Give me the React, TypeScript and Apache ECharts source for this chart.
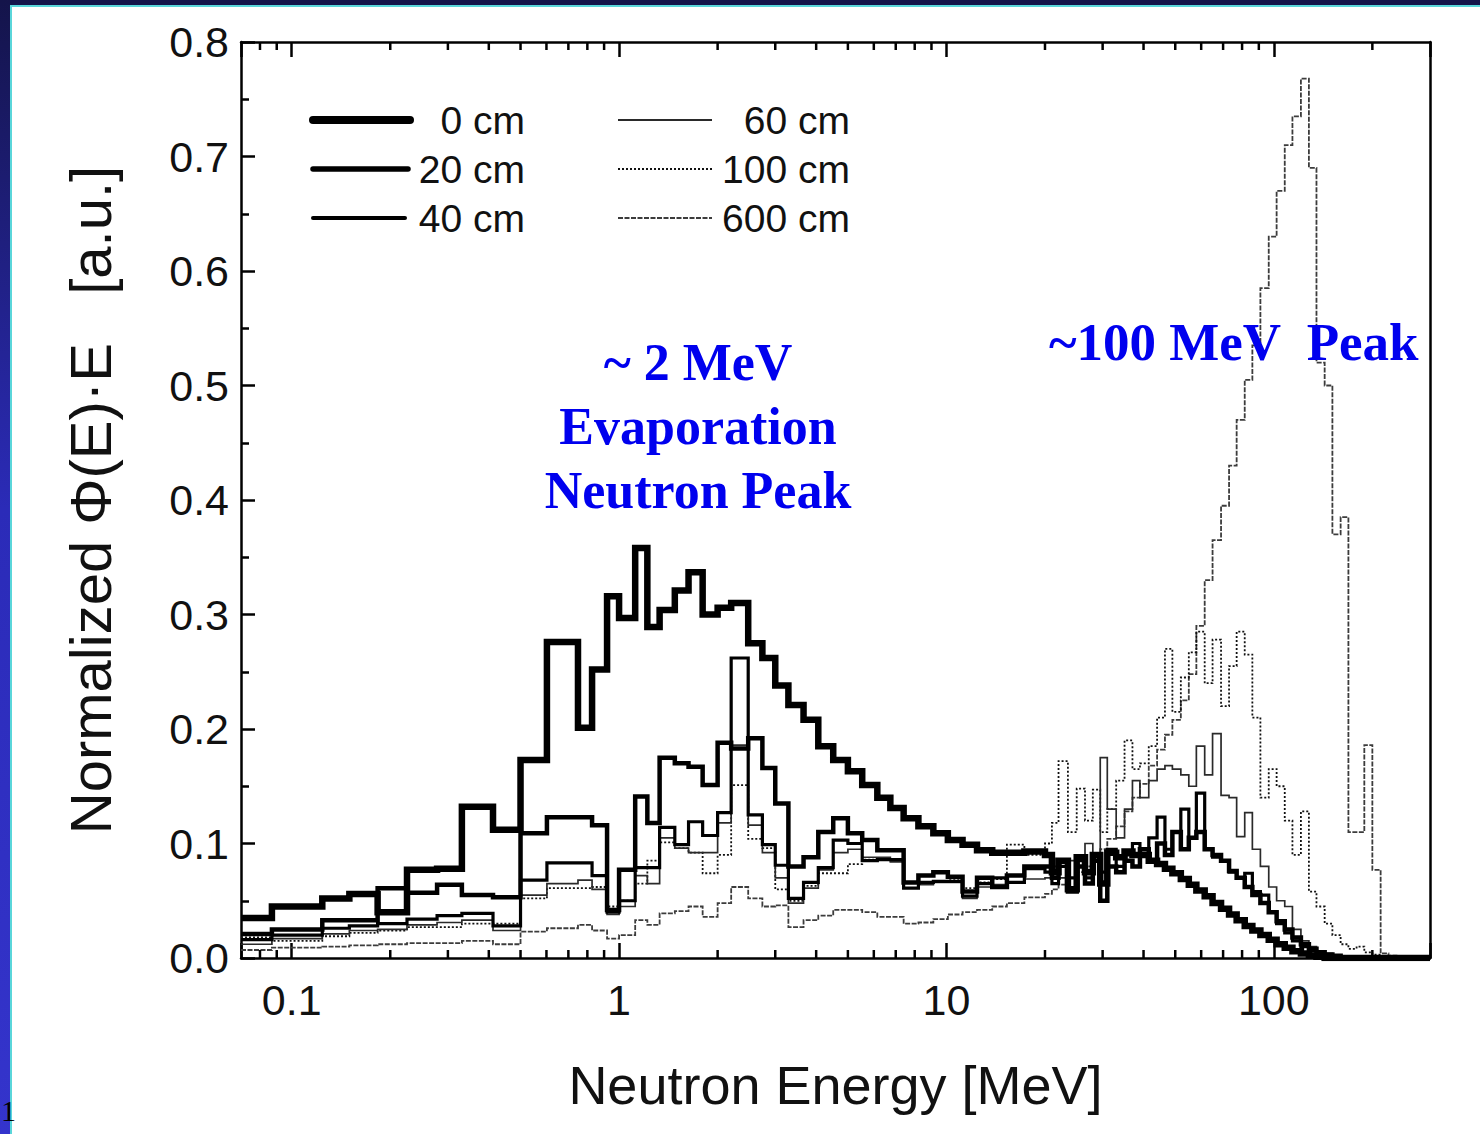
import React, { useEffect, useRef } from "react";
import * as echarts from "echarts";

// ---------- DATA ----------
// Lower bin edges (MeV) for the 0.07 – 20 MeV region (each bin runs to the next edge)
const LOW_EDGES = [0.07, 0.087, 0.124, 0.15, 0.183, 0.225, 0.278, 0.331, 0.412, 0.5, 0.602, 0.749, 0.827, 0.919, 1.0, 1.12, 1.22, 1.33, 1.48, 1.63, 1.8, 2.0, 2.2, 2.48, 2.74, 3.0, 3.29, 3.66, 4.06, 4.51, 5.0, 5.53, 6.15, 6.74, 7.4, 8.21, 9.12, 10.1, 11.2, 12.4, 13.8, 15.3, 17.3];
// Lower bin edges (MeV) for the 20 – 300 MeV region
const HIGH_EDGES = [20, 21, 22, 23.5, 25, 26.5, 28, 29.5, 31, 33, 35, 37, 39, 41.5, 44, 46.5, 49, 52, 55, 58, 61.5, 65, 69, 73, 77, 81.5, 86, 91, 96.5, 102, 108, 114, 121, 128, 135, 143, 151, 160, 169, 179, 189, 200, 212, 224, 237, 250, 265, 280];
const END_ENERGY = 300;

const SERIES_NAMES = ["0 cm", "20 cm", "40 cm", "60 cm", "100 cm", "600 cm"];

const CM0_LOW = [0.035, 0.045, 0.052, 0.056, 0.040, 0.077, 0.078, 0.132, 0.112,
  0.173, 0.276, 0.201, 0.252, 0.316, 0.297, 0.358, 0.289, 0.304, 0.321, 0.337,
  0.300, 0.306, 0.310, 0.275, 0.262, 0.238, 0.221, 0.208, 0.185, 0.173,
  0.163, 0.151, 0.140, 0.131, 0.122, 0.115, 0.109, 0.103, 0.099, 0.094,
  0.092, 0.092, 0.093];
const CM0_HIGH = [0.090, 0.075, 0.085, 0.060, 0.088, 0.075, 0.090, 0.065, 0.092, 0.088,
  0.093, 0.090, 0.090, 0.085, 0.082, 0.078, 0.074, 0.069, 0.064, 0.059,
  0.054, 0.048, 0.043, 0.038, 0.033, 0.028, 0.024, 0.020, 0.016, 0.012,
  0.009, 0.006, 0.004, 0.002, 0.001, 0, 0, 0, 0, 0,
  0, 0, 0, 0, 0, 0, 0, 0];

const CM20_LOW = [0.021, 0.025, 0.033, 0.033, 0.061, 0.057, 0.064, 0.055, 0.053,
  0.109, 0.123, 0.123, 0.116, 0.042, 0.077, 0.141, 0.118, 0.175, 0.170, 0.167,
  0.151, 0.188, 0.183, 0.192, 0.166, 0.135, 0.080, 0.088, 0.110, 0.122,
  0.109, 0.103, 0.094, 0.094, 0.066, 0.072, 0.075, 0.071, 0.058, 0.070,
  0.062, 0.072, 0.080];
const CM20_HIGH = [0.080, 0.070, 0.085, 0.058, 0.080, 0.065, 0.085, 0.050, 0.080, 0.075,
  0.085, 0.080, 0.095, 0.085, 0.100, 0.090, 0.110, 0.095, 0.105, 0.110,
  0.095, 0.090, 0.085, 0.076, 0.070, 0.062, 0.055, 0.048, 0.040, 0.032,
  0.025, 0.018, 0.012, 0.008, 0.005, 0.003, 0.002, 0, 0, 0,
  0, 0, 0, 0, 0, 0, 0, 0];

const CM40_LOW = [0.016, 0.020, 0.026, 0.028, 0.030, 0.034, 0.037, 0.039, 0.028,
  0.068, 0.083, 0.083, 0.072, 0.040, 0.050, 0.079, 0.079, 0.114, 0.099, 0.119,
  0.107, 0.127, 0.262, 0.125, 0.099, 0.081, 0.052, 0.066, 0.079, 0.103,
  0.100, 0.085, 0.086, 0.086, 0.061, 0.066, 0.067, 0.067, 0.054, 0.065,
  0.070, 0.066, 0.078];
const CM40_HIGH = [0.075, 0.065, 0.080, 0.070, 0.085, 0.070, 0.090, 0.075, 0.095, 0.080,
  0.090, 0.100, 0.090, 0.105, 0.123, 0.095, 0.110, 0.130, 0.105, 0.144,
  0.095, 0.088, 0.085, 0.075, 0.070, 0.074, 0.058, 0.055, 0.040, 0.030,
  0.022, 0.015, 0.010, 0.006, 0.004, 0.002, 0, 0, 0, 0,
  0, 0, 0, 0, 0, 0, 0, 0];

const CM60_LOW = [0.012, 0.017, 0.021, 0.024, 0.025, 0.029, 0.031, 0.033, 0.024,
  0.055, 0.065, 0.068, 0.060, 0.038, 0.045, 0.072, 0.065, 0.105, 0.096, 0.092,
  0.092, 0.118, 0.186, 0.116, 0.092, 0.070, 0.048, 0.061, 0.077, 0.092,
  0.095, 0.088, 0.088, 0.084, 0.061, 0.064, 0.066, 0.066, 0.052, 0.062,
  0.064, 0.066, 0.069];
const CM60_HIGH = [0.070, 0.080, 0.070, 0.085, 0.090, 0.100, 0.090, 0.175, 0.130, 0.105,
  0.130, 0.155, 0.140, 0.155, 0.165, 0.168, 0.165, 0.160, 0.150, 0.185,
  0.160, 0.196, 0.142, 0.140, 0.106, 0.127, 0.095, 0.080, 0.062, 0.050,
  0.045, 0.025, 0.015, 0.010, 0.006, 0.004, 0.002, 0, 0, 0,
  0, 0, 0, 0, 0, 0, 0, 0];

const CM100_LOW = [0.018, 0.015, 0.019, 0.022, 0.024, 0.027, 0.027, 0.030, 0.030,
  0.052, 0.061, 0.061, 0.062, 0.045, 0.050, 0.065, 0.085, 0.101, 0.096, 0.092,
  0.074, 0.090, 0.151, 0.104, 0.096, 0.060, 0.050, 0.063, 0.074, 0.074,
  0.082, 0.086, 0.087, 0.085, 0.061, 0.065, 0.067, 0.068, 0.061, 0.066,
  0.069, 0.099, 0.090];
const CM100_HIGH = [0.100, 0.118, 0.172, 0.110, 0.148, 0.120, 0.147, 0.110, 0.130, 0.155,
  0.190, 0.165, 0.170, 0.185, 0.210, 0.270, 0.215, 0.245, 0.267, 0.285,
  0.240, 0.278, 0.220, 0.255, 0.285, 0.265, 0.210, 0.140, 0.165, 0.150,
  0.120, 0.090, 0.128, 0.058, 0.045, 0.030, 0.020, 0.012, 0.008, 0.010,
  0.005, 0.003, 0.001, 0, 0, 0, 0, 0];

const CM600_LOW = [0.007, 0.009, 0.010, 0.011, 0.012, 0.013, 0.013, 0.015, 0.012,
  0.023, 0.026, 0.029, 0.024, 0.017, 0.020, 0.033, 0.029, 0.039, 0.041, 0.045,
  0.036, 0.048, 0.062, 0.052, 0.045, 0.046, 0.027, 0.033, 0.037, 0.042,
  0.042, 0.040, 0.036, 0.036, 0.030, 0.031, 0.034, 0.038, 0.040, 0.042,
  0.045, 0.048, 0.053];
const CM600_HIGH = [0.056, 0.060, 0.064, 0.070, 0.075, 0.080, 0.088, 0.095, 0.104, 0.115,
  0.128, 0.140, 0.152, 0.168, 0.182, 0.195, 0.208, 0.225, 0.248, 0.290,
  0.330, 0.365, 0.395, 0.430, 0.470, 0.505, 0.535, 0.585, 0.630, 0.670,
  0.710, 0.735, 0.768, 0.690, 0.520, 0.500, 0.370, 0.385, 0.110, 0.110,
  0.186, 0.077, 0.004, 0.002, 0.001, 0, 0, 0];

const X_MINOR_TICKS = [0.08, 0.09, 0.2, 0.3, 0.4, 0.5, 0.6, 0.7, 0.8, 0.9, 2, 3, 4, 5, 6, 7, 8, 9, 20, 30, 40, 50, 60, 70, 80, 90, 200];

const Y_MIN = 0;
const Y_MAX = 0.8;
const Y_INTERVAL = 0.1;

// ---------- HELPERS ----------
function histogram(low: number[], high: number[]) {
  const pts: number[][] = [];
  LOW_EDGES.forEach((e, i) => pts.push([e, low[i]]));
  HIGH_EDGES.forEach((e, i) => pts.push([e, high[i]]));
  pts.push([END_ENERGY, high[high.length - 1]]);
  return pts;
}

const SANS = "'Liberation Sans', Arial, Helvetica, sans-serif";
const SERIF = "'Liberation Serif', 'Times New Roman', serif";

const LINE_STYLES: any[] = [
  { color: "#000", width: 6.5, type: "solid" },
  { color: "#000", width: 4.5, type: "solid" },
  { color: "#000", width: 3.2, type: "solid" },
  { color: "#2a2a2a", width: 1.7, type: "solid" },
  { color: "#111", width: 1.8, type: [2, 2] },
  { color: "#3c3c3c", width: 1.8, type: [5, 1.5] },
];

const LEGEND_LINE_W = [8, 5.5, 4, 1.9, 1.9, 1.9];

const SERIES_DATA = [
  histogram(CM0_LOW, CM0_HIGH),
  histogram(CM20_LOW, CM20_HIGH),
  histogram(CM40_LOW, CM40_HIGH),
  histogram(CM60_LOW, CM60_HIGH),
  histogram(CM100_LOW, CM100_HIGH),
  histogram(CM600_LOW, CM600_HIGH),
];

export default function App() {
  const ref = useRef<HTMLDivElement>(null);

  useEffect(() => {
    if (!ref.current) return;
    const chart = echarts.init(ref.current, undefined, { renderer: "svg" });

    const axisLine = { show: true, onZero: false, lineStyle: { color: "#000", width: 2.5 } };
    const tickStyle = { color: "#000", width: 2.5 };

    // legend drawn as graphic (lines + right-aligned labels)
    const legendLayout = [
      { x1: 313, x2: 410, y: 120, tx: 525 },
      { x1: 313, x2: 408, y: 169, tx: 525 },
      { x1: 313, x2: 405, y: 218, tx: 525 },
      { x1: 618, x2: 712, y: 120, tx: 850 },
      { x1: 618, x2: 712, y: 169, tx: 850 },
      { x1: 618, x2: 712, y: 218, tx: 850 },
    ];
    const legendGraphics: any[] = [];
    SERIES_NAMES.forEach((name, i) => {
      const L = legendLayout[i];
      const st = LINE_STYLES[i];
      legendGraphics.push({
        type: "line",
        shape: { x1: L.x1, y1: L.y, x2: L.x2, y2: L.y },
        style: {
          stroke: st.color,
          lineWidth: LEGEND_LINE_W[i],
          lineDash: Array.isArray(st.type) ? st.type : null,
          lineCap: i < 3 ? "round" : "butt",
        },
        z: 20,
      });
      legendGraphics.push({
        type: "text",
        x: L.tx,
        y: L.y,
        style: {
          text: name,
          font: `39px ${SANS}`,
          fill: "#111",
          textAlign: "right",
          textVerticalAlign: "middle",
        },
        z: 20,
      });
    });

    const annoStyle = (text: string) => ({
      text,
      font: `bold 52px ${SERIF}`,
      fill: "#0000ee",
      textVerticalAlign: "middle",
    });

    const option: any = {
      animation: false,
      backgroundColor: "transparent",
      grid: { left: 241, right: 50, top: 42, bottom: 176, containLabel: false },
      xAxis: [
        {
          type: "log",
          logBase: 10,
          min: 0.07,
          max: END_ENERGY,
          position: "bottom",
          name: "Neutron Energy [MeV]",
          nameLocation: "middle",
          nameGap: 100,
          nameTextStyle: { fontFamily: SANS, fontSize: 54, color: "#111" },
          axisLine,
          axisTick: { show: true, inside: true, length: 15, lineStyle: tickStyle },
          axisLabel: {
            margin: 20,
            fontFamily: SANS,
            fontSize: 43,
            color: "#111",
            formatter: (v: number) => {
              const l = Math.log10(v);
              if (Math.abs(l - Math.round(l)) < 1e-6) return String(Number(v.toPrecision(3)));
              return "";
            },
          },
          splitLine: { show: false },
        },
        {
          type: "log",
          logBase: 10,
          min: 0.07,
          max: END_ENERGY,
          position: "top",
          axisLine,
          axisTick: { show: true, inside: true, length: 15, lineStyle: tickStyle },
          axisLabel: { show: false },
          splitLine: { show: false },
        },
      ],
      yAxis: [
        {
          type: "value",
          min: Y_MIN,
          max: Y_MAX,
          interval: Y_INTERVAL,
          position: "left",
          name: "Normalized \u03A6(E)\u00B7E   [a.u.]",
          nameLocation: "middle",
          nameRotate: 90,
          nameGap: 122,
          nameTextStyle: { fontFamily: SANS, fontSize: 58, color: "#111" },
          axisLine,
          axisTick: { show: true, inside: true, length: 14, lineStyle: tickStyle },
          minorTick: { show: true, splitNumber: 2, length: 8, lineStyle: tickStyle },
          axisLabel: {
            margin: 12,
            fontFamily: SANS,
            fontSize: 43,
            color: "#111",
            formatter: (v: number) => v.toFixed(1),
          },
          splitLine: { show: false },
          minorSplitLine: { show: false },
        },
        {
          type: "value",
          min: Y_MIN,
          max: Y_MAX,
          position: "right",
          axisLine,
          axisTick: { show: false },
          axisLabel: { show: false },
          splitLine: { show: false },
        },
      ],
      series: [
        ...[5, 4, 3, 2, 1, 0].map((i) => ({
          name: SERIES_NAMES[i],
          type: "line",
          step: "end",
          data: SERIES_DATA[i],
          showSymbol: false,
          symbol: "none",
          xAxisIndex: 0,
          yAxisIndex: 0,
          lineStyle: {
            color: LINE_STYLES[i].color,
            width: LINE_STYLES[i].width,
            type: LINE_STYLES[i].type,
            join: "miter",
            cap: "butt",
          },
          z: 2 + (5 - i),
        })),
        {
          type: "custom",
          xAxisIndex: 0,
          yAxisIndex: 0,
          silent: true,
          clip: false,
          z: 10,
          data: X_MINOR_TICKS.map((v) => [v, 0]),
          renderItem: (_params: any, api: any) => {
            const x = api.value(0);
            const b = api.coord([x, Y_MIN]);
            const t = api.coord([x, Y_MAX]);
            return {
              type: "group",
              children: [
                { type: "line", shape: { x1: b[0], y1: b[1], x2: b[0], y2: b[1] - 8 }, style: { stroke: "#000", lineWidth: 2.5 } },
                { type: "line", shape: { x1: t[0], y1: t[1], x2: t[0], y2: t[1] + 8 }, style: { stroke: "#000", lineWidth: 2.5 } },
              ],
            };
          },
        },
      ],
      graphic: [
        ...legendGraphics,
        { type: "text", x: 698, y: 362, style: { ...annoStyle("~ 2 MeV"), textAlign: "center" }, z: 30 },
        { type: "text", x: 698, y: 426, style: { ...annoStyle("Evaporation"), textAlign: "center" }, z: 30 },
        { type: "text", x: 698, y: 490, style: { ...annoStyle("Neutron Peak"), textAlign: "center" }, z: 30 },
        { type: "text", x: 1049, y: 342, style: { ...annoStyle("~100 MeV  Peak"), font: `bold 53px ${SERIF}`, textAlign: "left" }, z: 30 },
        { type: "text", x: 1, y: 1110, style: { text: "1", font: `30px ${SERIF}`, fill: "#000", textAlign: "left", textVerticalAlign: "middle" }, z: 30 },
      ],
    };

    chart.setOption(option);
    return () => chart.dispose();
  }, []);

  return (
    <div style={{ position: "fixed", left: 0, top: 0, width: 1480, height: 1134, background: "#fff", overflow: "hidden" }}>
      <div style={{ position: "absolute", left: 0, top: 0, width: 1480, height: 5, background: "#14144a" }} />
      <div style={{ position: "absolute", left: 0, top: 0, width: 10, height: 1134, background: "linear-gradient(#14144a, #2b2bb8 45%, #3434cc)" }} />
      <div style={{ position: "absolute", left: 10, top: 5, width: 1470, height: 1.5, background: "#5ad6da" }} />
      <div style={{ position: "absolute", left: 10, top: 5, width: 1.5, height: 1129, background: "#5ad6da" }} />
      <div ref={ref} style={{ position: "absolute", left: 0, top: 0, width: 1480, height: 1134 }} />
    </div>
  );
}
